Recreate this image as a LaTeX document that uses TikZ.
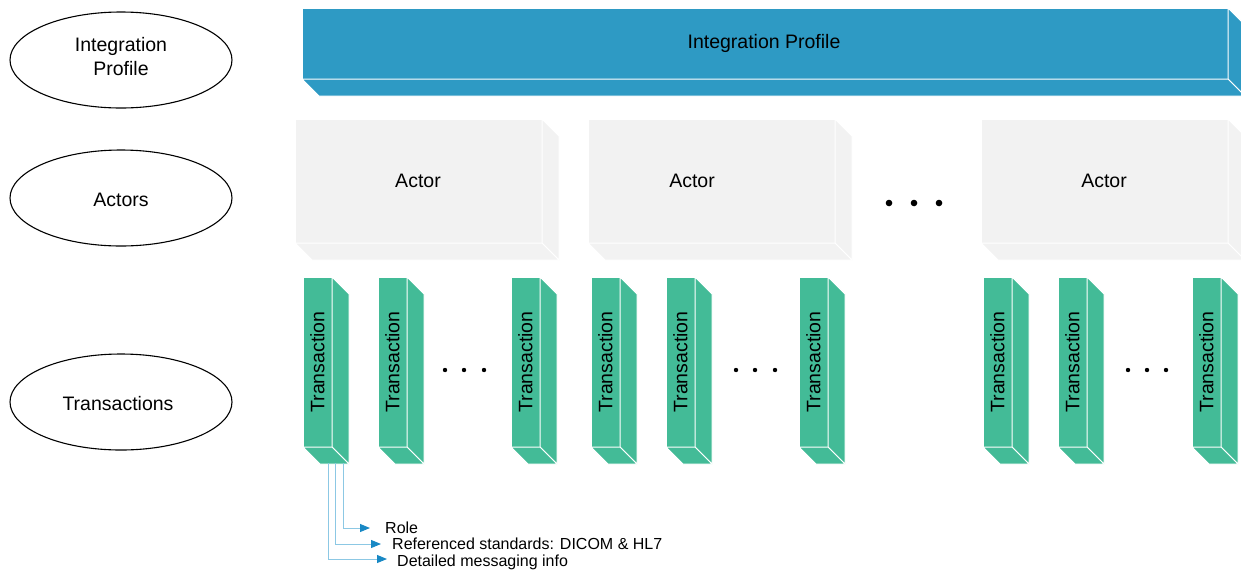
\documentclass[tikz,border=0pt]{standalone}
\usepackage{fontspec}
\setmainfont{Liberation Sans}
\usetikzlibrary{arrows.meta,calc,shapes.geometric}
\definecolor{ipblue}{RGB}{46,154,196}
\definecolor{actgray}{RGB}{242,242,242}
\definecolor{trgreen}{RGB}{67,187,151}
\definecolor{lineblue}{RGB}{140,200,228}
\definecolor{tipblue}{RGB}{24,136,196}
\tikzset{
  face/.style={draw=white, line width=1pt, inner sep=0pt, outer sep=0pt},
  ipface/.style={face, fill=ipblue, minimum width=926pt, minimum height=71pt},
  actface/.style={face, fill=actgray, minimum width=247pt, minimum height=124pt},
  trface/.style={face, fill=trgreen, minimum width=29pt, minimum height=170pt, font=\fontsize{19.5}{24}\selectfont},
  oval/.style={ellipse, draw=black, line width=1.1pt, minimum width=222pt, minimum height=96pt, align=center, font=\fontsize{19.5}{25}\selectfont},
  bigtxt/.style={font=\fontsize{19.5}{24}\selectfont, align=center},
  smalltxt/.style={font=\fontsize{16}{19}\selectfont, anchor=west, inner sep=0pt},
  callout/.style={draw=lineblue, line width=1pt, -{Triangle[length=10pt,width=8pt,color=tipblue]}},
}
\newcommand{\sidefaces}[3]{%
  \filldraw[#2, draw=white, line width=1pt] (#1.north east) -- ++(#3,#3) -- ($(#1.south east)+(#3,#3)$) -- (#1.south east) -- cycle;
  \filldraw[#2, draw=white, line width=1pt] (#1.south west) -- (#1.south east) -- ++(#3,#3) -- ($(#1.south west)+(#3,#3)$) -- cycle;
}
\begin{document}
\begin{tikzpicture}[x=1pt,y=-1pt]
\useasboundingbox (0,0) rectangle (1241,571);
\clip (0,0) rectangle (1241,571);
% left ellipses
\node[oval] (eip) at (121,60) {};
\node[bigtxt] (eipt) at (121,57) {Integration\\Profile};
\node[oval] (eact) at (121,198) {};
\node[bigtxt] (eactt) at (121,199.5) {Actors};
\node[oval] (etr) at (121,402) {};
\node[bigtxt] (etrt) at (118,403.5) {Transactions};
% integration profile bar
\node[ipface] (ip) at (765,43.5) {};
\sidefaces{ip}{ipblue}{17}
\node[bigtxt] (iptxt) at (764,43.5) {Integration Profile};
% actors
\node[actface] (a1) at (418.5,181) {};
\node[actface] (a2) at (711.5,181) {};
\node[actface] (a3) at (1104.5,181) {};
\sidefaces{a1}{actgray}{17}
\sidefaces{a2}{actgray}{17}
\sidefaces{a3}{actgray}{17}
\node[bigtxt] (a1t) at (418,181) {Actor};
\node[bigtxt] (a2t) at (692,181) {Actor};
\node[bigtxt] (a3t) at (1104,181) {Actor};
% large dots
\foreach \x in {889,914,939} \fill (\x,203) circle (3.3pt);
% transactions
\foreach \n/\x in {t1/303,t2/378,t3/511,t4/591,t5/666,t6/799,t7/983,t8/1058,t9/1192}{
  \node[trface] (\n) at (\x+14.5,362) {\rotatebox{90}{Transaction}};
  \sidefaces{\n}{trgreen}{17}
}
% small dots
\foreach \x in {445,464,484, 736,755,775, 1128,1147,1166} \fill (\x,370) circle (2.2pt);
% callouts
\node[smalltxt] (role) at (385,528) {Role};
\node[smalltxt] (refs) at (392,544) {Referenced standards: DICOM \& HL7};
\node[smalltxt] (info) at (397,562) {Detailed messaging info};
\coordinate (c1) at (343,463);
\coordinate (c2) at (335,463);
\coordinate (c3) at (328,463);
\draw[callout] (c1) |- ($(role.west)+(-15,0)$);
\draw[callout] (c2) |- ($(refs.west)+(-11,0)$);
\draw[callout] (c3) |- ($(info.west)+(-10,-3)$);
\end{tikzpicture}
\end{document}
